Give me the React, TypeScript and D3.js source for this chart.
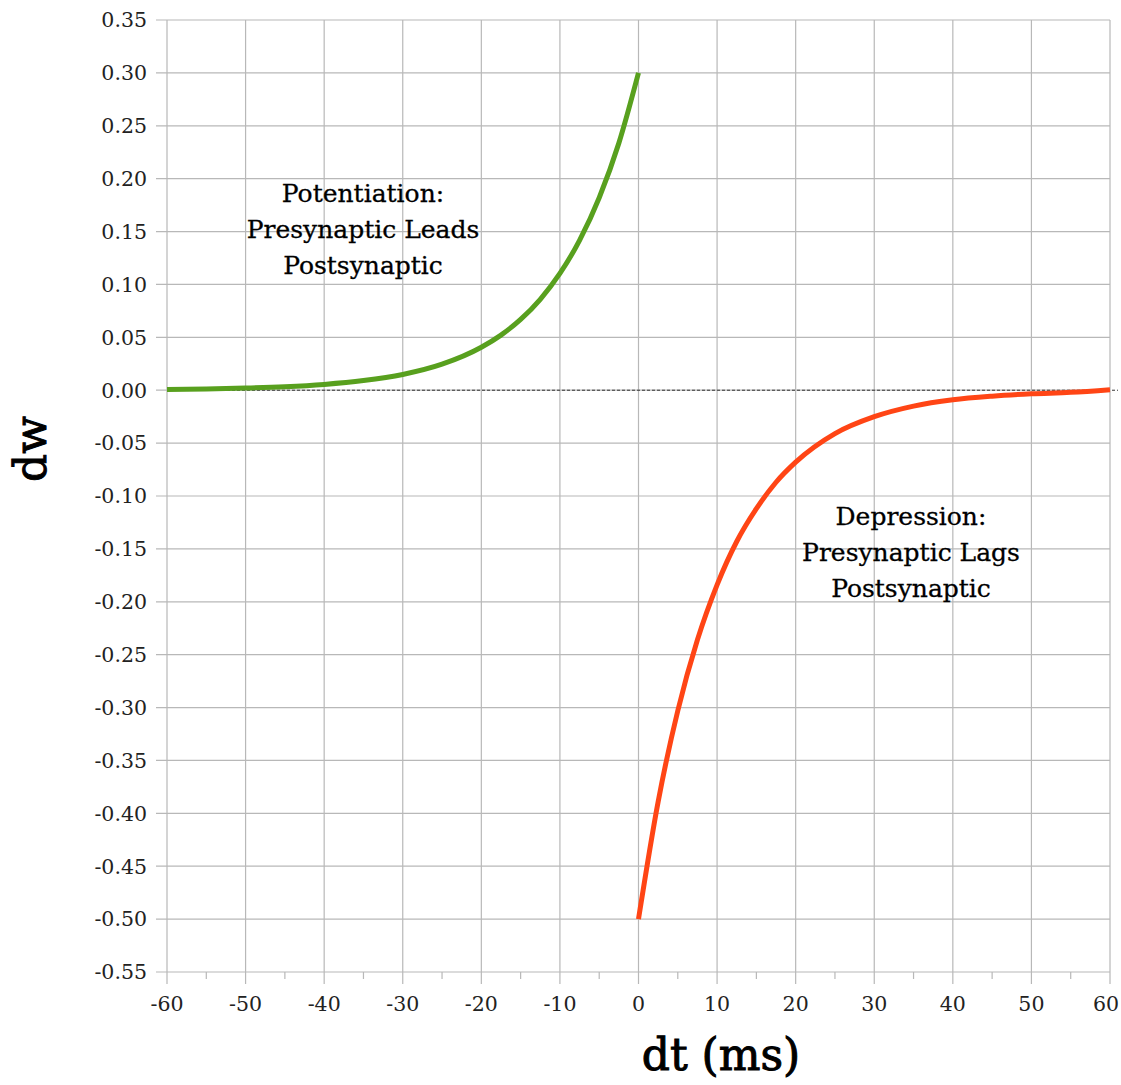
import { useRef, useEffect } from "react";
import * as d3 from "d3";

// values
const potDt = [-60, -55, -50, -45, -40, -35, -30, -25, -20, -17.5, -15, -12.5, -10, -7.5, -5, -2.5, 0];
const potDw = [0.0007, 0.0012, 0.002, 0.0033, 0.0055, 0.0091, 0.0149, 0.0246, 0.0406, 0.0521, 0.0669, 0.086, 0.1104, 0.1417, 0.182, 0.2336, 0.3];
const depDt = [0, 2.5, 5, 7.5, 10, 12.5, 15, 17.5, 20, 25, 30, 35, 40, 45, 50, 55, 60];
const depDw = [-0.5, -0.389, -0.303, -0.236, -0.184, -0.143, -0.112, -0.087, -0.068, -0.041, -0.025, -0.015, -0.009, -0.0056, -0.0034, -0.002, 0.0005];

const xTicks = [-60, -50, -40, -30, -20, -10, 0, 10, 20, 30, 40, 50, 60];
const xMinor = [-55, -45, -35, -25, -15, -5, 5, 15, 25, 35, 45, 55];
const yTicks = [0.35, 0.3, 0.25, 0.2, 0.15, 0.1, 0.05, 0, -0.05, -0.1, -0.15, -0.2, -0.25, -0.3, -0.35, -0.4, -0.45, -0.5, -0.55];

const potLabel = ["Potentiation:", "Presynaptic Leads", "Postsynaptic"];
const depLabel = ["Depression:", "Presynaptic Lags", "Postsynaptic"];

const width = 1121;
const height = 1085;
const left = 167;
const right = 1110;
const top = 20;
const bottom = 972;
const font = "'DejaVu Serif', 'Liberation Serif', serif";
const gridColor = "#b8b8b8";

export default function App() {
  const root = useRef<SVGSVGElement>(null);

  useEffect(() => {
    const svg = d3.select(root.current);
    svg.selectAll("*").remove();

    const x = d3.scaleLinear([-60, 60], [left, right]);
    const y = d3.scaleLinear([-0.55, 0.35], [bottom, top]);

    // vertical grid + major ticks
    svg.append("g")
      .selectAll("line")
      .data(xTicks)
      .enter()
      .append("line")
      .attr("x1", d => x(d))
      .attr("x2", d => x(d))
      .attr("y1", top)
      .attr("y2", bottom + 12)
      .attr("stroke", gridColor)
      .attr("stroke-width", 1.2);

    svg.append("g")
      .selectAll("line")
      .data(xMinor)
      .enter()
      .append("line")
      .attr("x1", d => x(d))
      .attr("x2", d => x(d))
      .attr("y1", bottom)
      .attr("y2", bottom + 7)
      .attr("stroke", gridColor)
      .attr("stroke-width", 1.2);

    // horizontal grid
    svg.append("g")
      .selectAll("line")
      .data(yTicks)
      .enter()
      .append("line")
      .attr("x1", left - 11)
      .attr("x2", right)
      .attr("y1", d => y(d))
      .attr("y2", d => y(d))
      .attr("stroke", gridColor)
      .attr("stroke-width", 1.2);

    // tick labels
    svg.append("g")
      .selectAll("text")
      .data(yTicks)
      .enter()
      .append("text")
      .attr("x", left - 20)
      .attr("y", d => y(d))
      .attr("dy", "0.36em")
      .attr("text-anchor", "end")
      .attr("font-family", font)
      .attr("font-size", 20.5)
      .attr("fill", "#222")
      .text(d => d3.format(".2f")(d).replace("−", "-"));

    svg.append("g")
      .selectAll("text")
      .data(xTicks)
      .enter()
      .append("text")
      .attr("x", d => Math.min(x(d), width - 15))
      .attr("y", 1011)
      .attr("text-anchor", "middle")
      .attr("font-family", font)
      .attr("font-size", 20.5)
      .attr("fill", "#222")
      .text(d => String(d));

    // zero reference
    svg.append("line")
      .attr("x1", left)
      .attr("x2", right + 8)
      .attr("y1", y(0))
      .attr("y2", y(0))
      .attr("stroke", "#333")
      .attr("stroke-width", 1)
      .attr("stroke-dasharray", "3,2");

    const line = d3.line<[number, number]>()
      .x(d => x(d[0]))
      .y(d => y(d[1]))
      .curve(d3.curveMonotoneX);

    svg.append("path")
      .attr("d", line(potDt.map((d, i) => [d, potDw[i]]) as [number, number][]))
      .attr("fill", "none")
      .attr("stroke", "#58a01e")
      .attr("stroke-width", 5);

    svg.append("path")
      .attr("d", line(depDt.map((d, i) => [d, depDw[i]]) as [number, number][]))
      .attr("fill", "none")
      .attr("stroke", "#ff4515")
      .attr("stroke-width", 5);

    // annotations
    const note = (lines: string[], cx: number, y0: number) =>
      svg.append("g")
        .selectAll("text")
        .data(lines)
        .enter()
        .append("text")
        .attr("x", cx)
        .attr("y", (d, i) => y0 + i * 36)
        .attr("text-anchor", "middle")
        .attr("font-family", font)
        .attr("font-size", 25)
        .attr("fill", "#000")
        .attr("stroke", "#000")
        .attr("stroke-width", 0.3)
        .text(d => d);

    note(potLabel, 363, 202);
    note(depLabel, 911, 525);

    svg.append("text")
      .attr("x", 721)
      .attr("y", 1070)
      .attr("text-anchor", "middle")
      .attr("font-family", font)
      .attr("font-size", 44)
      .attr("fill", "#000")
      .attr("stroke", "#000")
      .attr("stroke-width", 1)
      .text("dt (ms)");

    svg.append("text")
      .attr("transform", "translate(46,449) rotate(-90)")
      .attr("text-anchor", "middle")
      .attr("font-family", font)
      .attr("font-size", 44)
      .attr("fill", "#000")
      .attr("stroke", "#000")
      .attr("stroke-width", 1)
      .text("dw");
  }, []);

  return (
    <svg
      ref={root}
      width={width}
      height={height}
      style={{ display: "block", position: "absolute", left: 0, top: 0 }}
    />
  );
}
